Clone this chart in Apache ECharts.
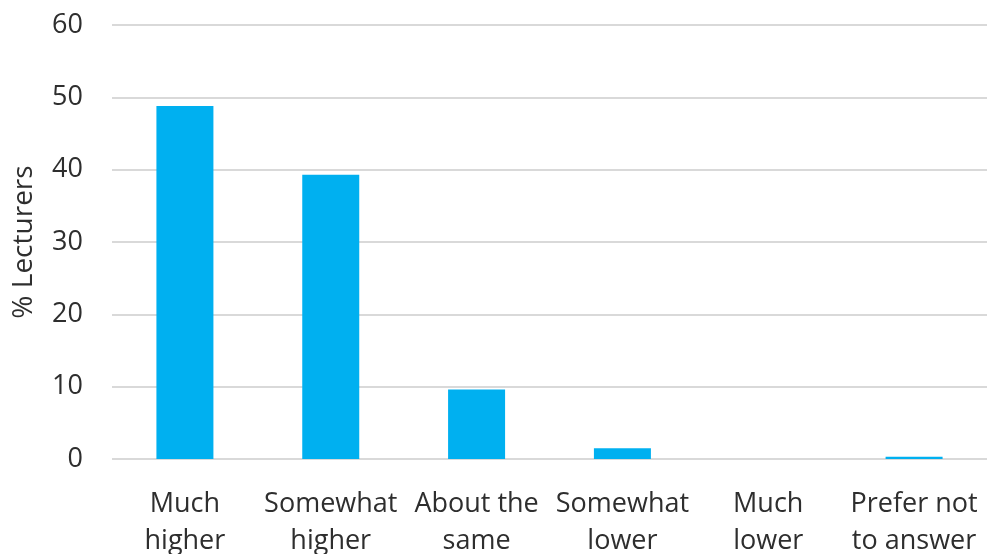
<!DOCTYPE html>
<html>
<head>
<meta charset="utf-8">
<script src="https://cdn.jsdelivr.net/npm/echarts@6/dist/echarts.min.js"></script>
<style>html,body{margin:0;padding:0;background:#fff}#c{width:987px;height:554px}</style>
</head>
<body>
<div id="c"></div>
<script>
const categories = ["Much\nhigher", "Somewhat\nhigher", "About the\nsame", "Somewhat\nlower", "Much\nlower", "Prefer not\nto answer"];
const values = [48.8, 39.3, 9.6, 1.5, 0, 0.3];
const yTicks = {min: 0, max: 60, interval: 10};
const yName = "% Lecturers";

const chart = echarts.init(document.getElementById('c'));
chart.setOption({
  animation: false,
  grid: {left: 112, right: 0, top: 25, bottom: 95, containLabel: false, outerBoundsMode: 'none'},
  xAxis: {
    type: 'category',
    data: categories,
    axisLine: {show: false},
    axisTick: {show: false},
    axisLabel: {interval: 0, margin: 27, color: '#2e2e2e', fontFamily: 'Open Sans', fontSize: 27, lineHeight: 37}
  },
  yAxis: {
    type: 'value',
    min: yTicks.min, max: yTicks.max, interval: yTicks.interval,
    name: yName,
    nameLocation: 'middle',
    nameGap: 74,
    nameTextStyle: {color: '#2e2e2e', fontFamily: 'Open Sans', fontSize: 28},
    axisLine: {show: false},
    axisTick: {show: false},
    axisLabel: {margin: 29, color: '#2e2e2e', fontFamily: 'Open Sans', fontSize: 27},
    splitLine: {lineStyle: {color: '#d9d9d9', width: 2}}
  },
  series: [{
    type: 'bar',
    data: values,
    barWidth: 57,
    itemStyle: {color: '#00b0f0'}
  }]
});
</script>
</body>
</html>
